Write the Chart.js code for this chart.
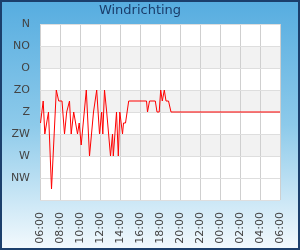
<!DOCTYPE html>
<html><head><meta charset="utf-8">
<script src="https://cdn.jsdelivr.net/npm/chart.js@4"></script>
<style>
html,body{margin:0;padding:0;}
#wrap{position:absolute;left:0;top:0;width:300px;height:250px;box-sizing:border-box;border:2px solid #1b3f6c;background:linear-gradient(to bottom,#57ade0 0%,#8dcaea 50%,#f2f9fd 100%);}
#c{position:absolute;left:0;top:0;}
</style></head><body>
<div id="wrap"></div>
<canvas id="c" width="300" height="250"></canvas>
<script>
const chartTitle = 'Windrichting';
const directionLabels = ['N','NO','O','ZO','Z','ZW','W','NW',''];
const directionDegrees = [0,45,90,135,180,225,270,315,360];
const timeLabels = ['06:00','08:00','10:00','12:00','14:00','16:00','18:00','20:00','22:00','00:00','02:00','04:00','06:00'];
// hours since 06:00
const hoursSinceStart = [0.05,0.32,0.48,0.85,1.15,1.63,1.87,2.2,2.45,2.67,2.95,3.12,3.37,3.75,3.92,4.12,4.63,4.95,5.35,5.67,5.95,6.17,6.28,6.45,6.67,7.05,7.25,7.33,7.65,7.83,7.98,8.25,8.35,8.55,8.87,10.65,10.75,10.95,11.53,11.7,11.92,12.07,12.23,12.43,12.6,12.85,13.1,24];
const windDegrees = [202.5,157.5,225,180,337.5,135,157.5,157.5,225,180,157.5,225,180,225,202.5,247.5,135,270,180,135,225,180,225,135,180,270,225,270,180,270,180,225,202.5,202.5,157.5,157.5,180,157.5,157.5,180,180,135,157.5,135,157.5,157.5,180,180];
const bandRanges = [[45,90],[135,180],[225,270]];

const points = hoursSinceStart.map((h,i)=>({x:h,y:windDegrees[i]}));

const bgPlugin = {
  id:'bg',
  beforeDraw(chart){
    const {ctx, chartArea:a, scales:{y}} = chart;
    ctx.save();
    ctx.fillStyle = '#ffffff';
    ctx.fillRect(a.left, a.top, a.right-a.left, a.bottom-a.top);
    ctx.fillStyle = '#f2f2f2';
    bandRanges.forEach(([lo,hi])=>{
      const p1 = y.getPixelForValue(lo), p2 = y.getPixelForValue(hi);
      ctx.fillRect(a.left, Math.min(p1,p2), a.right-a.left, Math.abs(p2-p1));
    });
    ctx.restore();
  }
};

new Chart(document.getElementById('c'), {
  type:'line',
  data:{datasets:[{data:points, borderColor:'#ff0000', borderWidth:1, pointRadius:0, tension:0, fill:false}]},
  options:{
    responsive:false, animation:false,
    layout:{padding:{left:0,right:20,top:0,bottom:0}},
    plugins:{
      legend:{display:false}, tooltip:{enabled:false},
      title:{display:true, text:chartTitle, color:'#1a3c6a', font:{family:'DejaVu Sans', size:13, weight:'normal'}, padding:{top:3,bottom:5.4}}
    },
    scales:{
      x:{type:'linear', min:0, max:24,
        afterFit(s){ s.height = 50; s.paddingRight = 0; s.paddingLeft = 0; },
        grid:{color:'#cfcfcf', drawTicks:false}, border:{display:false},
        ticks:{stepSize:2, autoSkip:false, maxRotation:90, minRotation:90, padding:12, color:'#444', font:{family:'DejaVu Sans', size:11},
          callback:(v)=>timeLabels[Math.round(v/2)]}
      },
      y:{min:0, max:360, reverse:true,
        afterFit(s){ s.width = 40; s.paddingTop = 0; s.paddingBottom = 0; },
        grid:{color:'#dedede', drawTicks:false}, border:{display:false},
        ticks:{stepSize:45, padding:10, color:'#444', font:{family:'DejaVu Sans', size:11},
          callback:(v)=>directionLabels[directionDegrees.indexOf(v)]}
      }
    }
  },
  plugins:[bgPlugin]
});
</script>
</body></html>
